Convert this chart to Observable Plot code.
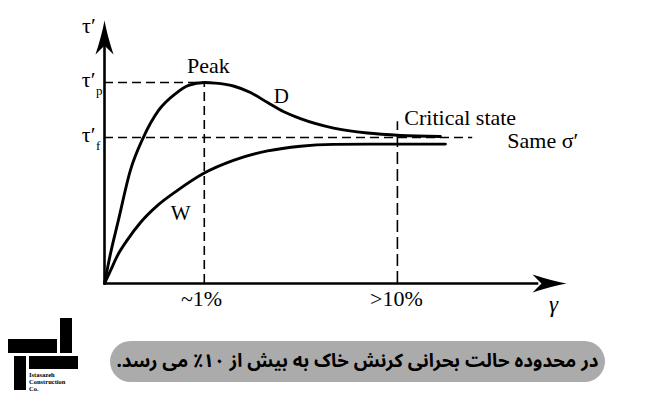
<!DOCTYPE html>
<html><head><meta charset="utf-8">
<script src="https://cdn.jsdelivr.net/npm/d3@7"></script>
<script src="https://cdn.jsdelivr.net/npm/@observablehq/plot@0.6"></script>
<style>
body{margin:0;background:#fff;}
#wrap{position:relative;width:650px;height:410px;overflow:hidden;}
#chart{position:absolute;left:0;top:0;}
#cap{position:absolute;left:110px;top:341px;width:495px;height:41px;border-radius:21px;background:#ababab;display:flex;align-items:center;justify-content:center;}
#capt{display:inline-block;direction:rtl;font-family:'Noto Sans Arabic','DejaVu Sans',sans-serif;font-weight:bold;font-size:23px;line-height:1;color:#000;white-space:nowrap;}
.lg{position:absolute;background:#000;}
#lgt{position:absolute;left:29px;top:371px;font-family:'Liberation Serif',serif;font-weight:bold;font-size:6.5px;line-height:7px;color:#000;}
</style></head>
<body><div id="wrap"><div id="chart"></div>
<div id="cap"><span id="capt"></span></div>
<div class="lg" style="left:60px;top:318px;width:12px;height:35px"></div>
<div class="lg" style="left:8px;top:339px;width:49px;height:14px"></div>
<div class="lg" style="left:14px;top:356px;width:12px;height:34px"></div>
<div class="lg" style="left:29px;top:356px;width:49px;height:13px"></div>
<div id="lgt">Istasazeh<br>Construction<br>Co.</div>
</div>
<script>
// schematic shear strain (x) and shear stress (y), arbitrary units 0-100
const strainD = [0, 1.3, 3.0, 5.6, 8.4, 11.7, 15.4, 18.2, 21.6, 24.0, 27.9, 31.6, 35.3, 38.7, 42.4, 49.6, 56.9, 64.1, 72.7];
const stressD = [0, 11.4, 24.0, 43.0, 55.5, 65.8, 72.2, 75.3, 76.4, 76.2, 75.1, 72.6, 68.8, 65.4, 62.7, 59.1, 57.2, 56.3, 55.9];
const strainW = [0, 1.3, 2.8, 5.0, 7.8, 11.5, 15.8, 21.4, 27.9, 35.3, 42.4, 49.6, 57.6, 73.8];
const stressW = [0, 4.9, 10.6, 16.7, 23.2, 29.7, 35.4, 41.8, 46.8, 50.4, 52.2, 52.9, 53.0, 53.0];
const peakStrain = 21.6, critStrain = 63.4;
const tauPeak = 76.4, tauCrit = 55.5;
const tickStrain = [21.0, 63.2];
const tickLabels = ["~1%", ">10%"];
const caption = "در محدوده حالت بحرانی کرنش خاک به بیش از ۱۰٪ می رسد.";

const D = strainD.map((x, i) => ({x, y: stressD[i]}));
const W = strainW.map((x, i) => ({x, y: stressW[i]}));

const arrowSym = {
  draw(ctx) {
    ctx.moveTo(0, 0);
    ctx.quadraticCurveTo(-14, -2.5, -34, -9);
    ctx.lineTo(-25, 0);
    ctx.lineTo(-34, 9);
    ctx.quadraticCurveTo(-14, 2.5, 0, 0);
    ctx.closePath();
  }
};

const serif = "Liberation Serif";
const T = (o) => Object.assign({fontFamily: serif, fill: "#000", lineAnchor: "bottom", fontSize: 22}, o);
const dash = {stroke: "#000", strokeWidth: 1.6, strokeDasharray: "9,5"};
const chart = Plot.plot({
  width: 650, height: 410,
  marginLeft: 104, marginRight: 84, marginTop: 20, marginBottom: 127,
  x: {domain: [0, 100], axis: null},
  y: {domain: [0, 100], axis: null},
  style: {background: "transparent"},
  marks: [
    // dashed guides
    Plot.ruleY([tauPeak], {x1: 0, x2: peakStrain, ...dash}),
    Plot.ruleY([tauCrit], {x1: 0, x2: 79.7, ...dash}),
    Plot.ruleX([peakStrain], {y1: 0, y2: tauPeak, ...dash}),
    Plot.ruleX([critStrain], {y1: 0, y2: 61.5, ...dash, strokeDasharray: "12,5"}),
    // axes
    Plot.ruleY([0], {x1: 0, x2: 94, stroke: "#000", strokeWidth: 2.6}),
    Plot.ruleX([0], {y1: 0, y2: 92, stroke: "#000", strokeWidth: 2.6}),
    Plot.dot([{x: 100, y: 0, rot: 0}, {x: 0, y: 100, rot: -90}], {x: "x", y: "y", rotate: "rot", symbol: arrowSym, r: 5, fill: "#000", stroke: "none"}),
    // curves
    Plot.line(D, {x: "x", y: "y", curve: "monotone-x", stroke: "#000", strokeWidth: 2.9}),
    Plot.line(W, {x: "x", y: "y", curve: "monotone-x", stroke: "#000", strokeWidth: 2.9}),
    // tick labels
    Plot.text(tickStrain, T({x: d => d, y: -8.4, text: (d, i) => tickLabels[i], textAnchor: "middle"})),
    Plot.text(["γ"], T({x: 97.2, y: -11, fontSize: 23, fontStyle: "italic", textAnchor: "middle"})),
    // y labels
    Plot.text(["τ′"], T({x: -1.9, y: 95.1, textAnchor: "end"})),
    Plot.text(["τ′"], T({x: -1.95, y: 74.6, textAnchor: "end"})),
    Plot.text(["p"], T({x: -1.85, y: 71.6, fontSize: 13, textAnchor: "start"})),
    Plot.text(["τ′"], T({x: -1.95, y: 53.7, textAnchor: "end"})),
    Plot.text(["f"], T({x: -1.85, y: 50.7, fontSize: 13, textAnchor: "start"})),
    // annotations
    Plot.text(["Peak"], T({x: 22.5, y: 80.2, textAnchor: "middle"})),
    Plot.text(["D"], T({x: 38.3, y: 71.1, fontSize: 21, lineAnchor: "middle", textAnchor: "middle"})),
    Plot.text(["W"], T({x: 16.5, y: 26.6, fontSize: 21, lineAnchor: "middle", textAnchor: "middle"})),
    Plot.text(["Critical state"], T({x: 64.9, y: 60.1, textAnchor: "start"})),
    Plot.text(["Same σ′"], T({x: 87.2, y: 51.7, textAnchor: "start"}))
  ]
});
document.getElementById("chart").appendChild(chart);
const capt = document.getElementById("capt");
capt.textContent = caption;
const w = capt.getBoundingClientRect().width;
const target = 482;
if (w > target) capt.style.fontSize = (23 * target / w).toFixed(2) + "px";
</script>
</body></html>
